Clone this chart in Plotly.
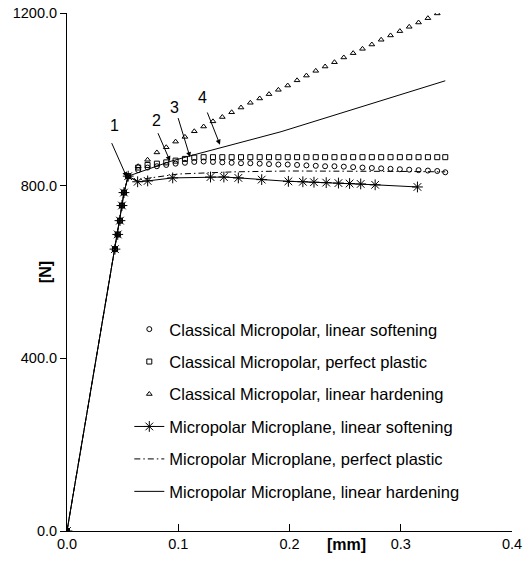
import plotly.graph_objects as go

# ---------------- data ----------------
elastic_x = [0.0, 0.0431, 0.0456, 0.0476, 0.0494, 0.0512, 0.055]
elastic_y = [0.0, 653, 687, 719, 754, 784, 822]

grid_x = [0.064, 0.0724, 0.0808, 0.0892, 0.0976, 0.106, 0.1144, 0.1228, 0.1312,
          0.1396, 0.148, 0.1564, 0.1648, 0.1732, 0.1816, 0.19, 0.1984, 0.2068,
          0.2152, 0.2236, 0.232, 0.2404, 0.2488, 0.2572, 0.2656, 0.274, 0.2824,
          0.2908, 0.2992, 0.3076, 0.316, 0.3244, 0.3328]
end_x = [0.34]

cm_soft_y = [836, 842, 845, 848, 851, 853, 855, 856, 855, 854, 853, 852, 852, 851,
             850, 849, 849, 848, 847, 846, 845, 845, 844, 843, 842, 841, 840, 839,
             838, 837, 836, 835, 834]
cm_soft_end = [831]

cm_perf_y = [842, 848, 851, 854, 858, 862, 865, 866, 866, 866, 866, 866, 866, 866,
             866, 866, 866, 866, 866, 866, 866, 866, 866, 866, 866, 866, 866, 866,
             866, 866, 866, 866, 866]
cm_perf_end = [866]

cm_hard_y = [845, 860, 877, 889, 902, 913, 926, 937, 949, 959, 970, 981, 992, 1002,
             1012, 1022, 1032, 1044, 1055, 1066, 1076, 1086, 1097, 1107, 1117, 1127,
             1138, 1148, 1158, 1168, 1178, 1188, 1199]

mm_soft_x = [0.0635, 0.0725, 0.095, 0.129, 0.141, 0.154, 0.175, 0.199, 0.212, 0.222,
             0.233, 0.244, 0.254, 0.264, 0.277, 0.315]
mm_soft_y = [809, 811, 818, 820, 820, 818, 814, 810, 809, 808, 807, 806, 805, 804,
             802, 797]

mm_perf_x = [0.062, 0.075, 0.1, 0.15, 0.2, 0.25, 0.3, 0.34]
mm_perf_y = [812, 818, 827, 832, 834, 834, 833, 832]

mm_hard_x = [0.0926, 0.1106, 0.1924, 0.2304, 0.28, 0.34]
mm_hard_y = [856, 869, 925, 955, 995, 1043]

names = ["Classical Micropolar, linear softening",
         "Classical Micropolar, perfect plastic",
         "Classical Micropolar, linear hardening",
         "Micropolar Microplane, linear softening",
         "Micropolar Microplane, perfect plastic",
         "Micropolar Microplane, linear hardening"]

labels = ["1", "2", "3", "4"]
label_x = [0.0425, 0.0805, 0.0965, 0.1215]
label_y = [939, 950, 981, 1005]
arrow_tail_x = [0.0396, 0.0812, 0.0995, 0.1256]
arrow_tail_y = [902, 925, 960, 973]
arrow_head_x = [0.0537, 0.0926, 0.1106, 0.1375]
arrow_head_y = [820, 857, 866, 895]

x_ticks = [0.0, 0.1, 0.2, 0.3, 0.4]
y_ticks = [0.0, 400.0, 800.0, 1200.0]

# ---------------- figure ----------------
FONT = "Liberation Sans, Arial, sans-serif"
fig = go.Figure()

def mk(symbol, size):
    return dict(symbol=symbol, size=size, color="black",
                line=dict(color="black", width=1))

fig.add_trace(go.Scatter(x=elastic_x + grid_x + end_x, y=elastic_y + cm_soft_y + cm_soft_end,
                         mode="markers", marker=mk("circle-open", 5), name=names[0],
                         legendgroup="g0"))
fig.add_trace(go.Scatter(x=elastic_x + grid_x + end_x, y=elastic_y + cm_perf_y + cm_perf_end,
                         mode="markers", marker=mk("square-open", 5), name=names[1],
                         legendgroup="g1"))
fig.add_trace(go.Scatter(x=elastic_x + grid_x, y=elastic_y + cm_hard_y,
                         mode="markers", marker=mk("triangle-up-open", 5), name=names[2],
                         legendgroup="g2"))
fig.add_trace(go.Scatter(x=elastic_x + mm_soft_x, y=elastic_y + mm_soft_y,
                         mode="lines+markers", line=dict(color="black", width=1),
                         marker=mk("asterisk-open", 9), name=names[3], legendgroup="g3"))
fig.add_trace(go.Scatter(x=elastic_x + mm_perf_x, y=elastic_y + mm_perf_y,
                         mode="lines", line=dict(color="black", width=1, dash="6px,3px,1.5px,3px"),
                         name=names[4], legendgroup="g4"))
fig.add_trace(go.Scatter(x=elastic_x + mm_hard_x, y=elastic_y + mm_hard_y,
                         mode="lines", line=dict(color="black", width=1),
                         name=names[5], legendgroup="g5"))

for i in range(len(labels)):
    fig.add_annotation(x=arrow_head_x[i], y=arrow_head_y[i], ax=arrow_tail_x[i],
                       ay=arrow_tail_y[i], axref="x", ayref="y", xref="x", yref="y",
                       text="", showarrow=True, arrowhead=2, arrowsize=1,
                       arrowwidth=1, arrowcolor="black", standoff=0)
    fig.add_annotation(x=label_x[i], y=label_y[i], xref="x", yref="y", text=labels[i],
                       showarrow=False, font=dict(family=FONT, size=16, color="black"))

# axis titles as annotations (placed as in the reference)
fig.add_annotation(text="<b>[mm]</b>", x=0.251, y=0.0, xref="x", yref="paper",
                   xanchor="center", yanchor="middle", yshift=-13, showarrow=False,
                   font=dict(family=FONT, size=16, color="black"))
fig.add_annotation(text="<b>[N]</b>", x=-0.049, y=0.5, xref="paper", yref="paper",
                   xanchor="center", yanchor="middle",
                   textangle=-90, showarrow=False,
                   font=dict(family=FONT, size=16, color="black"))

fig.update_layout(
    width=531, height=566,
    margin=dict(l=67, r=19, t=13, b=35),
    paper_bgcolor="white", plot_bgcolor="white",
    font=dict(family=FONT, size=14, color="black"),
    showlegend=True,
    legend=dict(x=0.14, y=0.423, xanchor="left", yanchor="top",
                bgcolor="rgba(0,0,0,0)", font=dict(family=FONT, size=16.5, color="black"),
                tracegroupgap=8, itemwidth=30),
    xaxis=dict(range=[0, 0.4], tickvals=x_ticks, ticktext=[f"{v:.1f}" for v in x_ticks],
               showgrid=False, zeroline=False, showline=True, linecolor="black",
               linewidth=1, ticks="inside", ticklen=7, tickcolor="black", automargin=False,
               tickfont=dict(family=FONT, size=14.5, color="black")),
    yaxis=dict(range=[0, 1200], tickvals=y_ticks, ticktext=[f"{v:.1f}" for v in y_ticks],
               showgrid=False, zeroline=False, showline=True, linecolor="black",
               linewidth=1, ticks="outside", ticklen=6, tickcolor="black", automargin=False,
               tickfont=dict(family=FONT, size=14.5, color="black")),
)

fig.write_html("out.html")
